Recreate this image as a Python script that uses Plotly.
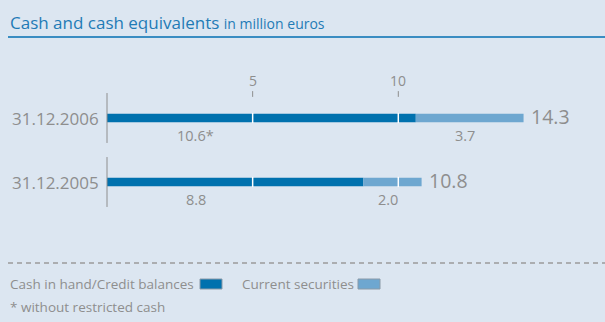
import plotly.graph_objects as go

categories = ["31.12.2006", "31.12.2005"]
cash = [10.6, 8.8]
securities = [3.7, 2.0]
totals = [14.3, 10.8]
cash_labels = ["10.6*", "8.8"]
sec_labels = ["3.7", "2.0"]
ticks = [5, 10]

BG = "#dce6f1"
DARK = "#0071ae"
LIGHT = "#6ea7d0"
GRAY = "#8e8e8e"
BLUE_T = "#1f7bb6"
FONT = "Open Sans"

W, H = 605, 322
X0PX, UNIT = 107, 29.13
xr = [-X0PX / UNIT, (W - X0PX) / UNIT]
Y0PX, YSTEP = 118, 64
yr = [(H - Y0PX) / YSTEP, -Y0PX / YSTEP]

idx = list(range(len(categories)))
fig = go.Figure()
fig.add_trace(go.Bar(y=idx, x=cash, orientation="h", marker=dict(color=DARK, line=dict(width=0)),
                     width=0.135, hoverinfo="skip"))
fig.add_trace(go.Bar(y=idx, x=securities, base=cash, orientation="h",
                     marker=dict(color=LIGHT, line=dict(width=0)), width=0.135, hoverinfo="skip"))

shapes = []
ann = []
for i, c in enumerate(categories):
    shapes.append(dict(type="line", xref="x", yref="y", x0=0, x1=0, y0=i - 0.39, y1=i + 0.39,
                       line=dict(color=GRAY, width=1)))
    for t in ticks:
        if t < totals[i]:
            shapes.append(dict(type="line", xref="x", yref="y", x0=t, x1=t, y0=i - 0.08, y1=i + 0.08,
                               line=dict(color="white", width=1.5), layer="above"))
    ann.append(dict(x=-0.2, y=i, xref="x", yref="y", text=c, showarrow=False, xanchor="right",
                    yanchor="middle", font=dict(family=FONT, size=17, color=GRAY)))
    ann.append(dict(x=totals[i] + 0.17, y=i - 0.02, xref="x", yref="y", text=f"{totals[i]:.1f}", showarrow=False,
                    xanchor="left", yanchor="middle", font=dict(family=FONT, size=19.5, color=GRAY)))
    ann.append(dict(x=3.05, y=i + 0.27, xref="x", yref="y", text=cash_labels[i], showarrow=False,
                    xanchor="center", yanchor="middle", font=dict(family=FONT, size=14.5, color=GRAY)))
    ann.append(dict(x=cash[i] + securities[i] / 2 - 0.17, y=i + 0.27, xref="x", yref="y", text=sec_labels[i],
                    showarrow=False, xanchor="center", yanchor="middle",
                    font=dict(family=FONT, size=14.5, color=GRAY)))

for t in ticks:
    shapes.append(dict(type="line", xref="x", yref="y", x0=t, x1=t, y0=-0.42, y1=-0.33,
                       line=dict(color=GRAY, width=1)))
    ann.append(dict(x=t, y=-0.58, xref="x", yref="y", text=str(t), showarrow=False,
                    xanchor="center", yanchor="middle", font=dict(family=FONT, size=14, color=GRAY)))

ann.append(dict(x=8 / W, y=1 - 22 / H, xref="paper", yref="paper", showarrow=False, xanchor="left",
                yanchor="middle",
                text="Cash and cash equivalents <span style='font-size:14px'>in million euros</span>",
                font=dict(family=FONT, size=17, color=BLUE_T)))
shapes.append(dict(type="line", xref="paper", yref="paper", x0=8 / W, x1=1, y0=1 - 37 / H, y1=1 - 37 / H,
                   line=dict(color="#3a8dc2", width=2)))
shapes.append(dict(type="line", xref="paper", yref="paper", x0=8 / W, x1=1, y0=1 - 263 / H, y1=1 - 263 / H,
                   line=dict(color="#9a9a9a", width=1.5, dash="5px,4px")))

legend_items = [("Cash in hand/Credit balances", DARK, 8, 200), ("Current securities", LIGHT, 240, 358)]
for name, col, tx, sx in legend_items:
    ann.append(dict(x=tx / W, y=1 - 284 / H, xref="paper", yref="paper", text=name, showarrow=False,
                    xanchor="left", yanchor="middle", font=dict(family=FONT, size=13.5, color=GRAY)))
    shapes.append(dict(type="rect", xref="paper", yref="paper", x0=sx / W, x1=(sx + 22) / W,
                       y0=1 - 289 / H, y1=1 - 279 / H, fillcolor=col, line=dict(color="#8a9aa8", width=1)))
ann.append(dict(x=8 / W, y=1 - 307 / H, xref="paper", yref="paper", text="* without restricted cash",
                showarrow=False, xanchor="left", yanchor="middle", font=dict(family=FONT, size=13.5, color=GRAY)))

fig.update_layout(
    width=W, height=H, margin=dict(l=0, r=0, t=0, b=0),
    paper_bgcolor=BG, plot_bgcolor=BG, barmode="overlay", showlegend=False,
    xaxis=dict(range=xr, visible=False, fixedrange=True),
    yaxis=dict(range=yr, visible=False, fixedrange=True),
    shapes=shapes, annotations=ann,
)
fig.write_html("out.html")
